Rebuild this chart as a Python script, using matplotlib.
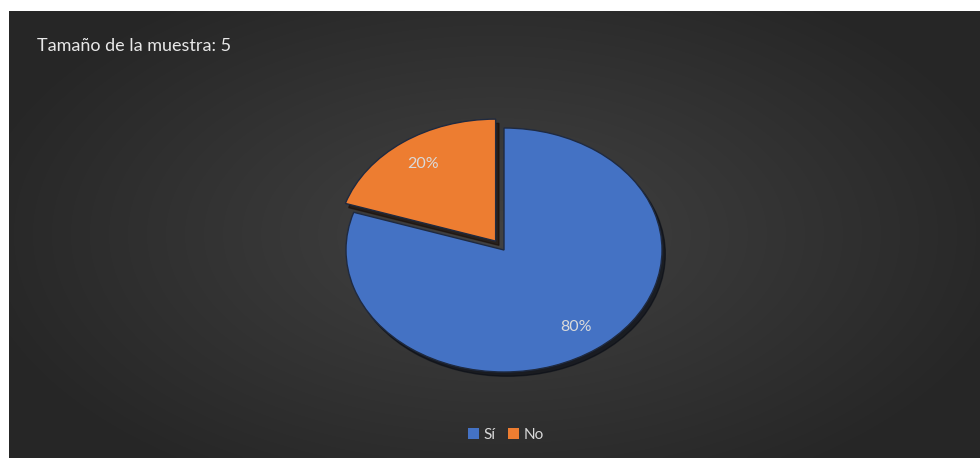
import numpy as np
import matplotlib.pyplot as plt

labels = ["Sí", "No"]
values = [80, 20]
colors = ["#4472C4", "#ED7D31"]
title = "Tamaño de la muestra: 5"

W, H = 980, 458
fig = plt.figure(figsize=(W / 100, H / 100), dpi=100, facecolor="white")

# dark panel with a soft radial gradient (lighter in the middle)
bg = fig.add_axes([9 / W, 0, 1 - 9 / W, 1 - 11 / H])
yy, xx = np.mgrid[-1:1:200j, -1:1:400j]
rr = np.sqrt((xx / 1.1) ** 2 + (yy / 1.3) ** 2)
shade = np.clip(1 - rr, 0, 1)
level = 0.15 + 0.11 * shade
img = np.dstack([level, level, level])
bg.imshow(img, aspect="auto", extent=[0, 1, 0, 1], interpolation="bicubic")
bg.set_axis_off()

fig.text(37 / W, 1 - 46 / H, title, color="#E8E8E8", fontsize=13,
         family="Lato", va="center", ha="left")

# pie axes: stretched horizontally so the pie is an ellipse
cx, cy, rx, ry = 504, 250, 158, 122
ax = fig.add_axes([(cx - 1.25 * rx) / W, 1 - (cy + 1.25 * ry) / H,
                   2.5 * rx / W, 2.5 * ry / H])
ax.set_facecolor("none")
wedges, texts, autotexts = ax.pie(
    values, colors=colors, startangle=90, counterclock=False,
    explode=[0, 0.09], autopct="%1.0f%%", pctdistance=0.78,
    wedgeprops=dict(edgecolor="#1f2a40", linewidth=1.0),
    textprops=dict(color="#DADADA", fontsize=11.5, family="Lato"),
    shadow=dict(ox=0.015, oy=-0.025, shade=0.9, alpha=0.6))
ax.set_aspect("auto")
ax.set_xlim(-1.25, 1.25)
ax.set_ylim(-1.25, 1.25)

leg = fig.legend(wedges, labels, loc="center", bbox_to_anchor=(506 / W, 1 - 435 / H),
                 ncol=2, frameon=False, handlelength=0.7, handleheight=0.7,
                 handletextpad=0.3, columnspacing=0.8,
                 prop=dict(family="Lato", size=11))
for t in leg.get_texts():
    t.set_color("#D9D9D9")
for h in leg.legend_handles:
    h.set_edgecolor("none")

fig.savefig("out.png", dpi=100, facecolor="white")
